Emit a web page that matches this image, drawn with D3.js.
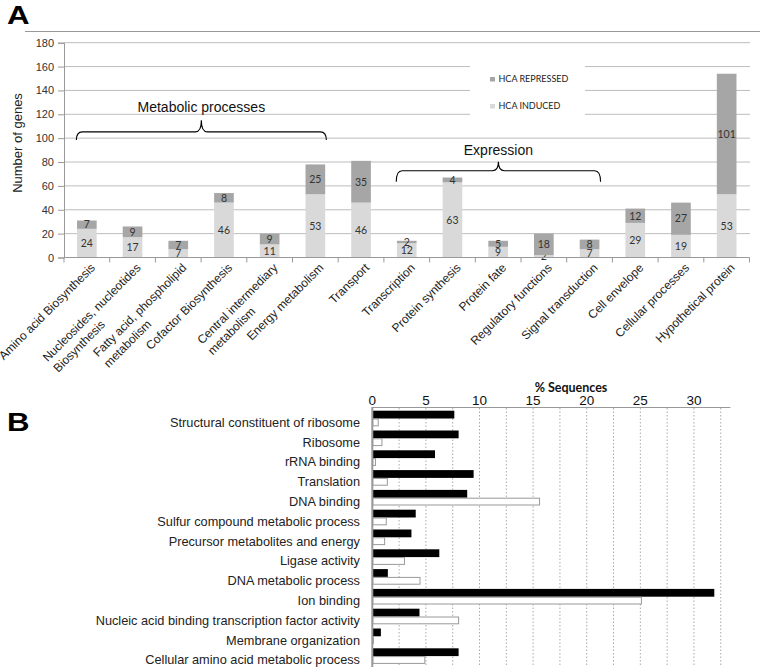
<!DOCTYPE html>
<html>
<head>
<meta charset="utf-8">
<script src="https://cdn.jsdelivr.net/npm/d3@7"></script>
<style>
  html, body { margin: 0; padding: 0; background: #fff; }
  svg { display: block; }
</style>
</head>
<body>
<script>
// ---------- Panel A data ----------
const categoriesA = [
  "Amino acid Biosynthesis",
  "Nucleosides, nucleotides\nBiosynthesis",
  "Fatty acid, phospholipid\nmetabolism",
  "Cofactor Biosynthesis",
  "Central intermediary\nmetabolism",
  "Energy metabolism",
  "Transport",
  "Transcription",
  "Protein synthesis",
  "Protein fate",
  "Regulatory functions",
  "Signal transduction",
  "Cell envelope",
  "Cellular processes",
  "Hypothetical protein"
];
const hcaInduced   = [24, 17, 7, 46, 11, 53, 46, 12, 63, 9, 2, 7, 29, 19, 53];
const hcaRepressed = [7, 9, 7, 8, 9, 25, 35, 2, 4, 5, 18, 8, 12, 27, 101];
const seriesNamesA = ["HCA INDUCED", "HCA REPRESSED"];
const yTicksA = [0, 20, 40, 60, 80, 100, 120, 140, 160, 180];
const groupLabels = ["Metabolic processes", "Expression"];
const groupFirst = [0, 7];
const groupLast = [5, 11];

// ---------- Panel B data ----------
const categoriesB = [
  "Structural constituent of ribosome",
  "Ribosome",
  "rRNA binding",
  "Translation",
  "DNA binding",
  "Sulfur compound metabolic process",
  "Precursor metabolites and energy",
  "Ligase activity",
  "DNA metabolic process",
  "Ion binding",
  "Nucleic acid binding transcription factor activity",
  "Membrane organization",
  "Cellular amino acid metabolic process"
];
const pctBlack = [7.65, 8.05, 5.85, 9.45, 8.85, 4.05, 3.65, 6.25, 1.45, 31.9, 4.4, 0.8, 8.05];
const pctWhite = [0.55, 0.9, 0.3, 1.4, 15.6, 1.3, 1.15, 3.0, 4.45, 25.1, 8.05, 0.1, 4.9];
const xTicksB = [0, 5, 10, 15, 20, 25, 30];
const xGridB = [2.5, 5, 7.5, 10, 12.5, 15, 17.5, 20, 22.5, 25, 27.5, 30, 32.5];

const W = 760, H = 667;
const svg = d3.select("body").append("svg").attr("width", W).attr("height", H)
  .style("font-family", "'Liberation Sans', Arial, sans-serif");
svg.append("rect").attr("width", W).attr("height", H).attr("fill", "#fff");

// ---------- Panel labels ----------
svg.append("text").attr("x", 7).attr("y", 24).text("A")
  .attr("font-size", 25).attr("font-weight", "bold").attr("fill", "#000")
  .attr("transform", "translate(7,24) scale(1.25,1) translate(-7,-24)");
svg.append("text").attr("x", 7).attr("y", 431).text("B")
  .attr("font-size", 26).attr("font-weight", "bold").attr("fill", "#000")
  .attr("transform", "translate(7,431) scale(1.2,1) translate(-7,-431)");

// separator line
svg.append("line").attr("x1", 25).attr("x2", 760).attr("y1", 31.5).attr("y2", 31.5)
  .attr("stroke", "#999").attr("stroke-width", 1);

// ---------- Panel A ----------
const xA = d3.scaleBand().domain(categoriesA).range([64, 749.5])
  .paddingInner(0.57).paddingOuter(0.285);
const yA = d3.scaleLinear().domain([0, 180]).range([257.5, 42.7]);
const gA = svg.append("g");

// gridlines
gA.append("g").selectAll("line").data(yTicksA.filter(d => d > 0)).join("line")
  .attr("x1", 64).attr("x2", 750).attr("y1", d => yA(d)).attr("y2", d => yA(d))
  .attr("stroke", "#bdbdbd").attr("stroke-width", 1);

// legend box (white, hides gridlines)
gA.append("rect").attr("x", 470).attr("y", 50).attr("width", 115).attr("height", 76).attr("fill", "#fff");

// y axis
const yAxisA = gA.append("g").attr("transform", "translate(64,0)")
  .call(d3.axisLeft(yA).tickValues(yTicksA).tickSize(6).tickPadding(4));
yAxisA.select(".domain").attr("stroke", "#999");
yAxisA.selectAll(".tick line").attr("stroke", "#999");
yAxisA.selectAll(".tick text").attr("font-size", 11).attr("fill", "#333")
  .attr("font-family", "'Liberation Sans', Arial, sans-serif");

gA.append("text").attr("transform", "translate(22,143) rotate(-90)")
  .attr("text-anchor", "middle").attr("font-size", 13).attr("fill", "#222")
  .text("Number of genes");

// stacked bars
const rowsA = categoriesA.map((c, i) => ({ cat: c, induced: hcaInduced[i], repressed: hcaRepressed[i] }));
const stackA = d3.stack().keys(["induced", "repressed"])(rowsA);
const colorsA = { induced: "#d9d9d9", repressed: "#a6a6a6" };
stackA.forEach(layer => {
  const g = gA.append("g");
  g.selectAll("rect").data(layer).join("rect")
    .attr("x", d => xA(d.data.cat)).attr("width", xA.bandwidth())
    .attr("y", d => yA(d[1])).attr("height", d => yA(d[0]) - yA(d[1]))
    .attr("fill", colorsA[layer.key]);
  g.selectAll("text").data(layer).join("text")
    .attr("x", d => xA(d.data.cat) + xA.bandwidth() / 2)
    .attr("y", d => (yA(d[0]) + yA(d[1])) / 2)
    .attr("dy", "0.36em").attr("text-anchor", "middle")
    .attr("font-size", 10.5).attr("fill", "#333")
    .attr("font-family", "Lato, 'Open Sans', sans-serif")
    .text(d => d[1] - d[0]);
});

// x axis line and ticks between categories
gA.append("line").attr("x1", 64).attr("x2", 749.5).attr("y1", yA(0)).attr("y2", yA(0))
  .attr("stroke", "#999");
const stepA = xA.step();
gA.append("g").selectAll("line").data(d3.range(categoriesA.length + 1)).join("line")
  .attr("x1", i => 64 + i * stepA).attr("x2", i => 64 + i * stepA)
  .attr("y1", yA(0)).attr("y2", yA(0) + 5).attr("stroke", "#999");

// x labels rotated
categoriesA.forEach(c => {
  const lines = c.split("\n");
  const cx = xA(c) + xA.bandwidth() / 2;
  const g = gA.append("g").attr("transform", `translate(${cx + 3},${yA(0) + 5}) rotate(-45)`);
  const t1 = g.append("text").attr("x", 0).attr("y", 0).attr("dy", "0.7em")
    .attr("text-anchor", "end").attr("font-size", 12).attr("fill", "#222").text(lines[0]);
  if (lines[1]) {
    const w = t1.node().getComputedTextLength();
    g.append("text").attr("x", -w).attr("y", 15).attr("dy", "0.7em")
      .attr("text-anchor", "start").attr("font-size", 12).attr("fill", "#222").text(lines[1]);
  }
});

// legend
const legA = gA.append("g").attr("font-family", "Lato, 'Open Sans', sans-serif");
[["HCA REPRESSED", colorsA.repressed, 77], ["HCA INDUCED", colorsA.induced, 104]].forEach(([name, col, y]) => {
  legA.append("rect").attr("x", 490).attr("y", y).attr("width", 5).attr("height", 4.5).attr("fill", col);
  legA.append("text").attr("x", 498.5).attr("y", y + 4.7).attr("font-size", 9).attr("fill", "#222").text(name);
});

// braces
function bracePath(x1, x2, yEnd, yH, yTip) {
  const m = (x1 + x2) / 2, r = 6;
  return `M${x1},${yEnd} Q${x1},${yH} ${x1 + r},${yH} L${m - r},${yH} Q${m},${yH} ${m},${yTip}` +
         ` Q${m},${yH} ${m + r},${yH} L${x2 - r},${yH} Q${x2},${yH} ${x2},${yEnd}`;
}
const braceY = [[98.4, 105.3, 115, 122], [63.5, 72.7, 80.2, 85.8]];
groupLabels.forEach((lab, i) => {
  const x1 = xA(categoriesA[groupFirst[i]]) + xA.bandwidth() / 2 - 10.5;
  const x2 = xA(categoriesA[groupLast[i]]) + xA.bandwidth() / 2 + 11;
  const [e, h, t, ty] = braceY[i].map(v => yA(v));
  gA.append("path").attr("d", bracePath(x1, x2, e, h, t)).attr("fill", "none")
    .attr("stroke", "#000").attr("stroke-width", 1.1);
  gA.append("text").attr("x", (x1 + x2) / 2).attr("y", ty).attr("text-anchor", "middle")
    .attr("font-size", 14).attr("fill", "#111").text(lab);
});

// ---------- Panel B ----------
const xB = d3.scaleLinear().domain([0, 33.4]).range([372.3, 730.4]);
const yB = d3.scaleBand().domain(categoriesB).range([408.5, 408.5 + 19.8 * categoriesB.length]);
const subB = d3.scaleBand().domain(["black", "white"]).range([2.2, 17.8]);
const gB = svg.append("g");

gB.append("g").selectAll("line").data(xGridB).join("line")
  .attr("x1", d => xB(d)).attr("x2", d => xB(d)).attr("y1", 408).attr("y2", H)
  .attr("stroke", "#aaa").attr("stroke-width", 1).attr("stroke-dasharray", "1.5,2");

const rowsB = categoriesB.map((c, i) => ({ cat: c, black: pctBlack[i], white: pctWhite[i] }));
gB.append("g").selectAll("rect").data(rowsB).join("rect")
  .attr("x", xB(0)).attr("y", d => yB(d.cat) + subB("black"))
  .attr("width", d => xB(d.black) - xB(0)).attr("height", subB.bandwidth())
  .attr("fill", "#000");
gB.append("g").selectAll("rect").data(rowsB).join("rect")
  .attr("x", xB(0) + 0.5).attr("y", d => yB(d.cat) + subB("white") + 0.5)
  .attr("width", d => Math.max(0.5, xB(d.white) - xB(0) - 0.5)).attr("height", subB.bandwidth() - 1)
  .attr("fill", "#fff").attr("stroke", "#999").attr("stroke-width", 1);

// axes lines
gB.append("line").attr("x1", 372.3).attr("x2", 730.4).attr("y1", 407.5).attr("y2", 407.5)
  .attr("stroke", "#999");
gB.append("line").attr("x1", 372.3).attr("x2", 372.3).attr("y1", 407).attr("y2", H)
  .attr("stroke", "#999").attr("stroke-width", 2);

gB.append("g").selectAll("text").data(xTicksB).join("text")
  .attr("x", d => xB(d)).attr("y", 405).attr("text-anchor", "middle")
  .attr("font-size", 13.5).attr("fill", "#111").text(d => d);
gB.append("text").attr("x", 571).attr("y", 391.5).attr("text-anchor", "middle")
  .attr("font-size", 12.5).attr("font-weight", "bold").attr("fill", "#111")
  .attr("font-family", "Lato, 'Open Sans', sans-serif").text("% Sequences");

gB.append("g").selectAll("text").data(categoriesB).join("text")
  .attr("x", 360).attr("y", d => yB(d) + yB.bandwidth() / 2 + 4)
  .attr("dy", "0.35em").attr("text-anchor", "end")
  .attr("font-size", 12.75).attr("fill", "#222").text(d => d);
</script>
</body>
</html>
